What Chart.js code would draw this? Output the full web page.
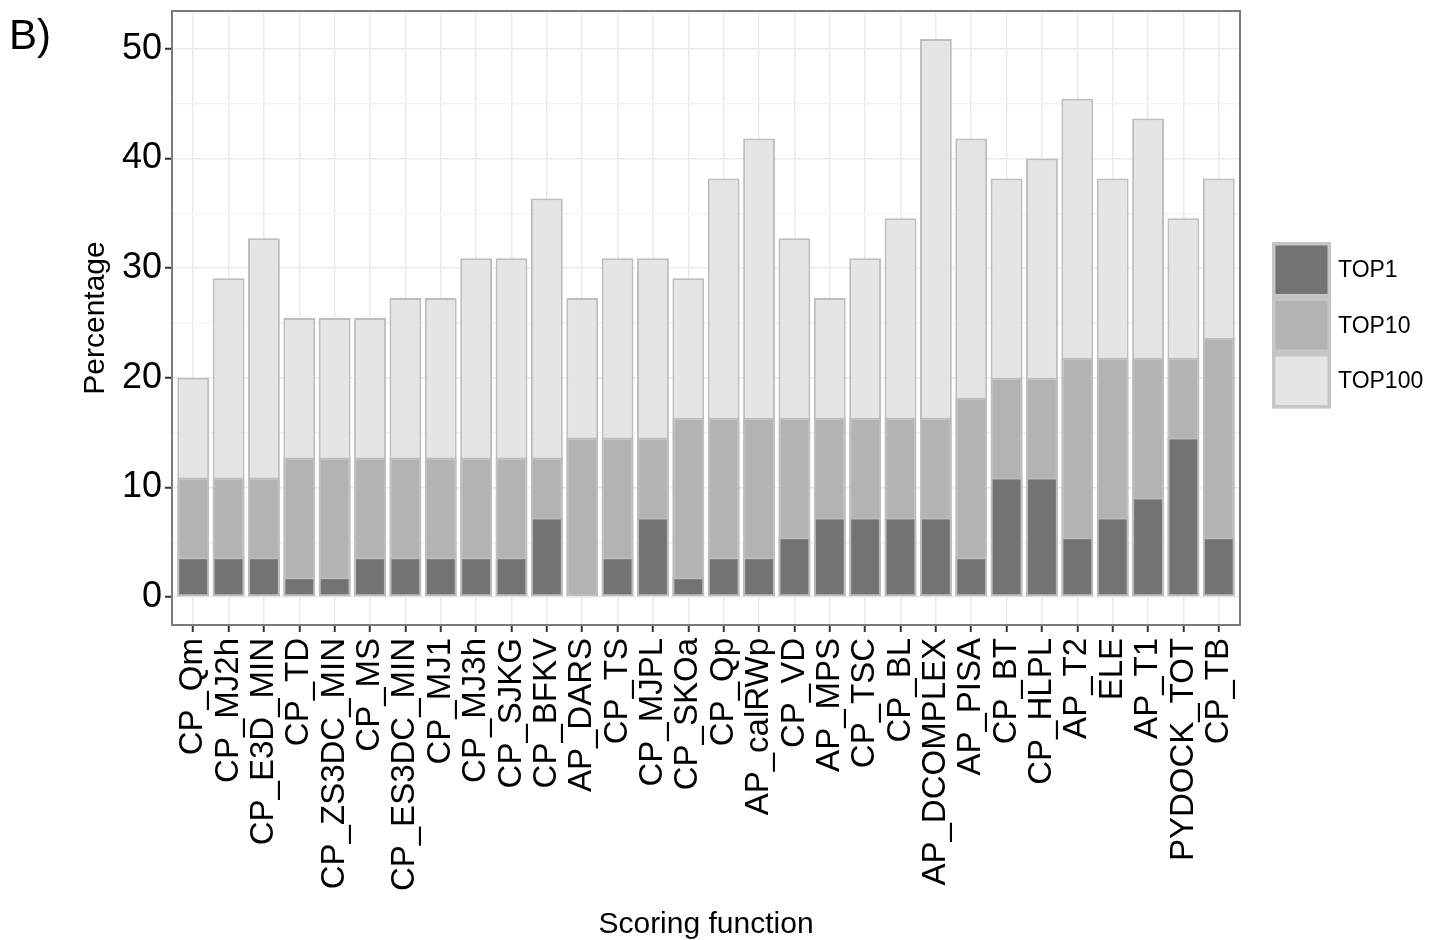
<!DOCTYPE html>
<html>
<head>
<meta charset="utf-8">
<script src="https://cdn.jsdelivr.net/npm/chart.js@4.4.0/dist/chart.umd.min.js"></script>
<style>
  body { margin: 0; background: #fff; }
  #wrap { position: relative; width: 1431px; height: 940px; }
  #panelTag {
    position: absolute; left: 9px; top: 14px;
    font: 42px "Liberation Sans", Arial, Helvetica, sans-serif;
    line-height: 1; color: #000;
  }
</style>
</head>
<body>
<div id="wrap">
  <canvas id="chart" width="1431" height="940"></canvas>
  <div id="panelTag">B)</div>
</div>
<script>
// scoring functions, in plot order
const categories = [
  "CP_Qm", "CP_MJ2h", "CP_E3D_MIN", "CP_TD", "CP_ZS3DC_MIN", "CP_MS",
  "CP_ES3DC_MIN", "CP_MJ1", "CP_MJ3h", "CP_SJKG", "CP_BFKV", "AP_DARS",
  "CP_TS", "CP_MJPL", "CP_SKOa", "CP_Qp", "AP_calRWp", "CP_VD", "AP_MPS",
  "CP_TSC", "CP_BL", "AP_DCOMPLEX", "AP_PISA", "CP_BT", "CP_HLPL", "AP_T2",
  "ELE", "AP_T1", "PYDOCK_TOT", "CP_TB"
];

// percentages
const top1 = [
  3.64, 3.64, 3.64, 1.82, 1.82, 3.64, 3.64, 3.64, 3.64, 3.64, 7.27, 0,
  3.64, 7.27, 1.82, 3.64, 3.64, 5.45, 7.27, 7.27, 7.27, 7.27, 3.64, 10.91,
  10.91, 5.45, 7.27, 9.09, 14.55, 5.45
];
const top10 = [
  10.91, 10.91, 10.91, 12.73, 12.73, 12.73, 12.73, 12.73, 12.73, 12.73, 12.73, 14.55,
  14.55, 14.55, 16.36, 16.36, 16.36, 16.36, 16.36, 16.36, 16.36, 16.36, 18.18, 20.0,
  20.0, 21.82, 21.82, 21.82, 21.82, 23.64
];
const top100 = [
  20.0, 29.09, 32.73, 25.45, 25.45, 25.45, 27.27, 27.27, 30.91, 30.91, 36.36, 27.27,
  30.91, 30.91, 29.09, 38.18, 41.82, 32.73, 27.27, 30.91, 34.55, 50.91, 41.82, 38.18,
  40.0, 45.45, 38.18, 43.64, 34.55, 38.18
];

const seriesNames = ["TOP1", "TOP10", "TOP100"];
const yTicks = [0, 10, 20, 30, 40, 50];

const FONT = '"Liberation Sans", Arial, Helvetica, sans-serif';
const fills = ["#737373", "#b3b3b3", "#e5e5e5"];
const edge = "#bdbdbd";

const yMax = 50.91 * 1.05;
const yMin = -50.91 * 0.05;

function toPoints(arr) {
  return arr.map((v, i) => ({ x: i, y: v }));
}

// ggplot-ish panel frame drawn over everything
const panelFrame = {
  id: "panelFrame",
  afterDatasetsDraw(chart) {
    const { ctx, chartArea: a } = chart;
    ctx.save();
    ctx.strokeStyle = "#7a7a7a";
    ctx.lineWidth = 2;
    ctx.strokeRect(a.left, a.top, a.right - a.left, a.bottom - a.top);
    ctx.restore();
  }
};

// key column on the right, same look as the ggplot legend
const keyLegend = {
  id: "keyLegend",
  afterDraw(chart) {
    const { ctx, chartArea: a } = chart;
    const x = a.right + 32, w = 59, h = 55.5;
    let y = 242;
    ctx.save();
    chart.data.datasets.forEach((ds) => {
      ctx.fillStyle = ds.backgroundColor;
      ctx.fillRect(x, y, w, h);
      ctx.strokeStyle = "#c6c6c6";
      ctx.lineWidth = 3.5;
      ctx.strokeRect(x + 1.75, y + 1.75, w - 3.5, h - 3.5);
      ctx.fillStyle = "#000";
      ctx.font = "23px " + FONT;
      ctx.textBaseline = "middle";
      ctx.fillText(ds.label, x + w + 7, y + h / 2 + 1);
      y += h;
    });
    ctx.restore();
  }
};

const datasets = [top1, top10, top100].map((arr, i) => ({
  label: seriesNames[i],
  data: toPoints(arr),
  backgroundColor: fills[i],
  borderColor: edge,
  borderWidth: 2,
  borderSkipped: false,
  grouped: false,
  barPercentage: 0.9,
  categoryPercentage: 1.0
}));

new Chart(document.getElementById("chart").getContext("2d"), {
  type: "bar",
  data: { datasets: datasets },
  options: {
    responsive: false,
    animation: false,
    layout: { padding: { left: 75, right: 191, top: 11, bottom: 0 } },
    plugins: {
      legend: { display: false },
      tooltip: { enabled: false }
    },
    scales: {
      x: {
        type: "linear",
        offset: false,
        min: -0.6,
        max: categories.length - 1 + 0.6,
        afterBuildTicks: (s) => { s.ticks = categories.map((c, i) => ({ value: i })); },
        afterFit: (s) => { s.height = 315; s.paddingLeft = 0; s.paddingRight = 0; },
        border: { display: false },
        grid: {
          offset: false,
          color: "#ebebeb",
          lineWidth: 1.5,
          tickColor: "#333333",
          tickLength: 7,
          tickWidth: 2
        },
        ticks: {
          autoSkip: false,
          minRotation: 90,
          maxRotation: 90,
          padding: 6,
          color: "#000",
          font: { family: FONT, size: 33 },
          callback: (v) => categories[v]
        },
        title: {
          display: true,
          text: "Scoring function",
          color: "#000",
          font: { family: FONT, size: 30, lineHeight: 1 },
          padding: { top: 0, bottom: 0 }
        }
      },
      y: {
        min: yMin,
        max: yMax,
        afterFit: (s) => { s.width = 97; s.paddingTop = 0; s.paddingBottom = 0; },
        border: { display: false },
        grid: {
          color: (c) => (c.tick && yTicks.includes(c.tick.value) ? "#ebebeb" : "#f4f4f4"),
          lineWidth: 1.5,
          tickColor: (c) => (c.tick && yTicks.includes(c.tick.value) ? "#333333" : "rgba(0,0,0,0)"),
          tickLength: 7,
          tickWidth: 2
        },
        ticks: {
          stepSize: 5,
          includeBounds: false,
          maxTicksLimit: 20,
          padding: 3,
          color: "#000",
          font: { family: FONT, size: 36 },
          callback: (v) => (yTicks.includes(v) ? v : "")
        },
        title: {
          display: true,
          text: "Percentage",
          color: "#000",
          font: { family: FONT, size: 30, lineHeight: 1 },
          padding: { top: 6, bottom: 0 }
        }
      }
    }
  },
  plugins: [panelFrame, keyLegend]
});
</script>
</body>
</html>
